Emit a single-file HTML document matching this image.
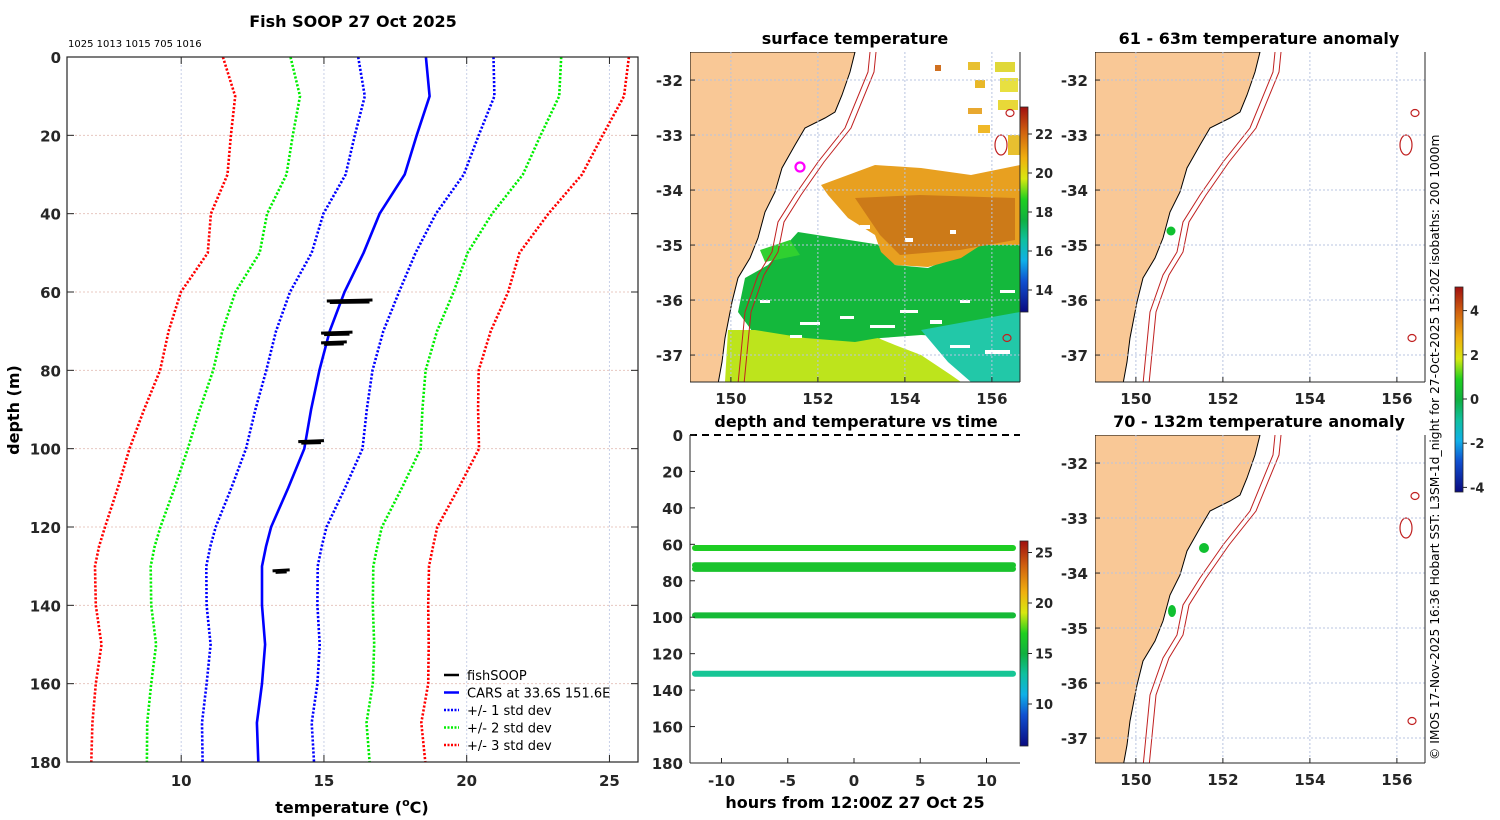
<!DOCTYPE html>
<html><head><meta charset="utf-8"><style>
html,body{margin:0;padding:0;background:#fff}
svg{display:block;font-family:"DejaVu Sans","Liberation Sans",sans-serif}
.tk{font-size:15px;font-weight:bold;fill:#262626}
.ti{font-size:16px;font-weight:bold;fill:#000}
</style></head><body>
<svg id="fig" width="1500" height="820" viewBox="0 0 1500 820" xmlns="http://www.w3.org/2000/svg">
<defs>
<linearGradient id="sstcb" x1="0" y1="1" x2="0" y2="0">
<stop offset="0" stop-color="#0a0a80"/><stop offset="0.15" stop-color="#1050d0"/><stop offset="0.25" stop-color="#10b0e8"/><stop offset="0.35" stop-color="#10c0a0"/><stop offset="0.45" stop-color="#10b040"/><stop offset="0.55" stop-color="#20d020"/><stop offset="0.65" stop-color="#d8e810"/><stop offset="0.75" stop-color="#f0b010"/><stop offset="0.88" stop-color="#d06010"/><stop offset="1" stop-color="#a01010"/>
</linearGradient>
<clipPath id="cm1"><rect x="690" y="52" width="330" height="330"/></clipPath>
<clipPath id="cm2"><rect x="1095" y="52" width="330" height="330"/></clipPath>
<clipPath id="cm3"><rect x="1095" y="435" width="330" height="328"/></clipPath>
</defs>
<g id="g"></g>
</svg>
<script>
// ---- profile data ----
const depths=[0,10,20,30,40,50,60,70,80,90,100,110,120,125,130,140,150,160,170,180];
const carsMean=[18.57,18.7,18.25,17.83,16.95,16.39,15.72,15.2,14.84,14.55,14.31,13.75,13.15,12.97,12.83,12.83,12.94,12.83,12.65,12.7];
const carsStd=[2.37,2.27,2.17,2.07,1.97,1.82,1.91,1.88,1.86,1.95,2.04,1.99,1.94,1.95,1.95,1.94,1.91,1.94,1.92,1.95];
const fishDepth=[62.3,70.5,73,98.2,131.2];
const fishTmin=[15.1,14.9,14.9,14.1,13.2];
const fishTmax=[16.7,16.0,15.8,15.0,13.8];
const xTicks=[10,15,20,25];
const yTicks=[0,20,40,60,80,100,120,140,160,180];
// ---- time series data ----
const tsDepth=[62,71.5,73.5,99,131];
const tsTemp=[16.8,16.2,16.2,15.6,13.2];
const tsStart=-12, tsEnd=12;
const hourTicks=[-10,-5,0,5,10];
// ---- map ticks ----
const lonTicks=[150,152,154,156];
const latTicks=[-32,-33,-34,-35,-36,-37];

const NS="http://www.w3.org/2000/svg";
const G=document.getElementById('g');
function el(tag,attrs,parent,text){const e=document.createElementNS(NS,tag);for(const k in attrs)e.setAttribute(k,attrs[k]);if(text!==undefined)e.textContent=text;(parent||G).appendChild(e);return e;}

const X=t=>67+(t-6)*571/20, Y=d=>57+d*705/180;
const P=el('g',{});

xTicks.forEach(t=>{el('line',{x1:X(t),x2:X(t),y1:57,y2:762,stroke:'#c8d0e8','stroke-dasharray':'2 2','stroke-width':1},P);});
yTicks.forEach(d=>{el('line',{x1:67,x2:638,y1:Y(d),y2:Y(d),stroke:'#e8c8c0','stroke-dasharray':'2 2','stroke-width':1},P);});
const sdCols=['#0000ff','#00ee00','#ff0000'];
[1,2,3].forEach(k=>{
 [-1,1].forEach(s=>{
  const pts=depths.map((d,i)=>X(carsMean[i]+s*k*carsStd[i]).toFixed(1)+','+Y(d).toFixed(1)).join(' ');
  const l=el('polyline',{points:pts,fill:'none',stroke:sdCols[k-1],'stroke-width':2.6,'stroke-dasharray':'2.2 1.8'},P);
  
  
 });
});
const cars=el('polyline',{points:depths.map((d,i)=>X(carsMean[i]).toFixed(1)+','+Y(d).toFixed(1)).join(' '),fill:'none',stroke:'#0000ff','stroke-width':2.6},P);


fishDepth.forEach((d,i)=>{
 const f=el('path',{d:`M${X(fishTmin[i])},${Y(d)} L${X(fishTmax[i])},${Y(d)-1} M${X(fishTmin[i])+3},${Y(d)+1.5} L${X(fishTmax[i])-3},${Y(d)+1}`,stroke:'#000','stroke-width':3,fill:'none'},P);
 
 
});
el('rect',{x:67,y:57,width:571,height:705,fill:'none',stroke:'#262626','stroke-width':1.2},P);
xTicks.forEach(t=>{el('line',{x1:X(t),x2:X(t),y1:762,y2:755,stroke:'#262626'},P);el('line',{x1:X(t),x2:X(t),y1:57,y2:64,stroke:'#262626'},P);const tx=el('text',{x:X(t),y:786,'text-anchor':'middle',class:'tk'},P,String(t));});
yTicks.forEach(d=>{el('line',{x1:67,x2:74,y1:Y(d),y2:Y(d),stroke:'#262626'},P);el('line',{x1:638,x2:631,y1:Y(d),y2:Y(d),stroke:'#262626'},P);const tx=el('text',{x:61,y:Y(d)+6,'text-anchor':'end',class:'tk'},P,String(d));});
</script>
<script>
(function(){
const S=document.getElementById('fig');
function t(x,y,txt,cls,name,extra){const e=document.createElementNS("http://www.w3.org/2000/svg",'text');e.setAttribute('x',x);e.setAttribute('y',y);if(cls)e.setAttribute('class',cls);for(const k in (extra||{}))e.setAttribute(k,extra[k]);e.textContent=txt;


S.appendChild(e);return e;}
t(353,27,'Fish SOOP 27 Oct 2025','ti','profile-title',{'text-anchor':'middle'});
t(68,47,'1025 1013 1015 705 1016','', 'instrument-ids',{'font-size':'10px'});
const xl=t(352,813,'temperature (','ti','x-axis-title',{'text-anchor':'middle'});
xl.innerHTML='temperature (<tspan font-size="11" dy="-7">o</tspan><tspan dy="7">C)</tspan>';
t(19,410,'depth (m)','ti','y-axis-title',{'text-anchor':'middle',transform:'rotate(-90 19 410)'});
t(855,44,'surface temperature','ti','sst-map-title',{'text-anchor':'middle'});
t(1259,44,'61 - 63m temperature anomaly','ti','anomaly-map-top-title',{'text-anchor':'middle'});
t(1259,427,'70 - 132m temperature anomaly','ti','anomaly-map-bottom-title',{'text-anchor':'middle'});
t(856,427,'depth and temperature vs time','ti','timeseries-title',{'text-anchor':'middle'});
t(855,808,'hours from 12:00Z 27 Oct 25','ti','timeseries-x-title',{'text-anchor':'middle'});
t(1439,760,'© IMOS 17-Nov-2025 16:36 Hobart SST: L3SM-1d_night for 27-Oct-2025 15:20Z isobaths: 200  1000m','', 'credit-text',{'font-size':'12.3px',transform:'rotate(-90 1439 760)'});
const leg=[['#000','','fishSOOP'],['#0000ff','','CARS at 33.6S 151.6E'],['#0000ff','2 1.5','+/- 1 std dev'],['#00ee00','2 1.5','+/- 2 std dev'],['#ff0000','2 1.5','+/- 3 std dev']];
leg.forEach((L,i)=>{const y=675+i*17.5;
 const ln=document.createElementNS("http://www.w3.org/2000/svg",'line');
 ln.setAttribute('x1',444);ln.setAttribute('x2',459);ln.setAttribute('y1',y);ln.setAttribute('y2',y);ln.setAttribute('stroke',L[0]);ln.setAttribute('stroke-width',2.5);if(L[1])ln.setAttribute('stroke-dasharray',L[1]);
 
 
 S.appendChild(ln);
 t(467,y+5,L[2],'','legend-entry',{'font-size':'13px'});
});
})();
</script>
<script>
(function(){
const NS="http://www.w3.org/2000/svg";const S=document.getElementById('fig');
function el(tag,attrs,parent,text){const e=document.createElementNS(NS,tag);for(const k in attrs)e.setAttribute(k,attrs[k]);if(text!==undefined)e.textContent=text;(parent||S).appendChild(e);return e;}
const coast=[[165,0],[160,20],[152,43],[145,60],[135,66],[115,76],[105,93],[92,116],[85,140],[75,160],[68,186],[60,206],[48,226],[42,250],[35,286],[32,310],[28,332]];
const iso=[[180,0],[178,20],[155,76],[128,110],[105,143],[88,170],[82,200],[68,223],[55,260],[48,332]];
function pts(a,ox,oy,dx){return a.map(p=>(p[0]+ox+(dx||0))+','+(p[1]+oy)).join(' ');}
function drawMap(ox,oy,h,clip,name,sst){
 const g=el('g',{'clip-path':'url(#'+clip+')'});
 
 
 const mx=lon=>ox+(lon-149.06)*43.5, my=lat=>oy+(-31.49-lat)*55;
 if(sst){
  const P=(a,c)=>el('polygon',{points:a.map(p=>p.join(',')).join(' '),fill:c},g);
  P([[798,232],[881,245],[895,265],[928,268],[981,245],[1020,242],[1020,332],[978,338],[921,335],[881,338],[848,345],[788,345],[755,335],[738,312],[745,278],[768,265]],'#14b83c');
  P([[725,382],[728,330],[755,330],[805,338],[855,342],[878,338],[895,345],[921,355],[951,375],[961,382]],'#bde41c');
  P([[921,330],[1020,312],[1020,382],[971,382],[948,362]],'#22c8a8');
  P([[821,185],[875,165],[921,168],[971,175],[1020,165],[1020,245],[981,245],[961,258],[928,267],[895,265],[881,252],[875,235],[848,218],[828,195]],'#e8a020');
  P([[855,198],[920,195],[1015,198],[1015,240],[960,250],[900,255],[880,235]],'#cc7a18');
  [[968,62,12,8,'#e8c030'],[995,62,20,10,'#e0d838'],[1000,78,18,14,'#e8e040'],[975,80,10,8,'#e8b828'],[968,108,14,6,'#e8a830'],[978,125,12,8,'#f0b828'],[998,100,20,10,'#e8d838'],[1008,135,12,20,'#e8c030'],[935,65,6,6,'#d07020']].forEach(r=>el('rect',{x:r[0],y:r[1],width:r[2],height:r[3],fill:r[4]},g));
  P([[760,250],[790,240],[800,255],[765,262]],'#30d030');
  [[760,300,10,3],[800,322,20,3],[840,316,14,3],[870,325,25,3],[900,310,18,3],[930,320,12,4],[960,300,10,3],[790,335,12,3],[1000,290,15,3],[950,345,20,3],[985,350,25,4],[860,225,10,4],[905,238,8,4],[950,230,6,4]].forEach(r=>el('rect',{x:r[0],y:r[1],width:r[2],height:r[3],fill:'#fff'},g));
 }
 el('polygon',{points:pts(coast,ox,oy)+' '+(ox)+','+(oy+332)+' '+ox+','+oy,fill:'#f9c896',stroke:'#000','stroke-width':1},g);
 el('polyline',{points:pts(iso,ox,oy),fill:'none',stroke:'#c02020','stroke-width':1},g);
 el('polyline',{points:pts(iso,ox,oy,6),fill:'none',stroke:'#c02020','stroke-width':1},g);
 [[320,61],[311,93],[317,286]].forEach(c=>el('ellipse',{cx:ox+c[0],cy:oy+c[1],rx:c[0]==311?6:4,ry:c[0]==311?10:3.5,fill:'none',stroke:'#c02020','stroke-width':1.2},g));
 lonTicks.forEach(l=>el('line',{x1:mx(l),x2:mx(l),y1:oy,y2:oy+h,stroke:'#b8c4e0','stroke-dasharray':'2 2'},g));
 latTicks.forEach(l=>el('line',{x1:ox,x2:ox+330,y1:my(l),y2:my(l),stroke:'#b8c4e0','stroke-dasharray':'2 2'},g));
 el('line',{x1:ox,x2:ox+330,y1:oy+h,y2:oy+h,stroke:'#262626'});
 el('line',{x1:ox+330,x2:ox+330,y1:oy,y2:oy+h,stroke:'#262626'});
 lonTicks.forEach(l=>{el('line',{x1:mx(l),x2:mx(l),y1:oy+h,y2:oy+h-5,stroke:'#262626'});const tx=el('text',{x:mx(l),y:oy+h+22,'text-anchor':'middle',class:'tk'},S,String(l));});
 latTicks.forEach(l=>{el('line',{x1:ox,x2:ox+5,y1:my(l),y2:my(l),stroke:'#262626'});const tx=el('text',{x:ox-7,y:my(l)+6,'text-anchor':'end',class:'tk'},S,String(l));});
 return g;
}
const m1=drawMap(690,52,330,'cm1','sst-map',true);
el('circle',{cx:800,cy:167,r:4.5,fill:'none',stroke:'#ff00ff','stroke-width':2.2},m1);
const m2=drawMap(1095,52,330,'cm2','anomaly-map-top',false);
el('circle',{cx:1171,cy:231,r:4.5,fill:'#10c030'},m2);
const m3=drawMap(1095,435,328,'cm3','anomaly-map-bottom',false);
el('circle',{cx:1204,cy:548,r:5,fill:'#10c030'},m3);
el('ellipse',{cx:1172,cy:611,rx:4,ry:6,fill:'#10c030'},m3);
function cbar(x,y,h,ticks,y0,scale,grad,name){
 const r=el('rect',{x:x,y:y,width:8,height:h,fill:grad,stroke:'#262626','stroke-width':0.8});
 
 
 ticks.forEach(v=>{const ty=y0-v*scale;el('line',{x1:x+8,x2:x+12,y1:ty,y2:ty,stroke:'#262626'});const tx=el('text',{x:x+15,y:ty+5,class:'tk'},S,String(v));tx.style.fontSize='13px';});
}
cbar(1020,107,205,[14,16,18,20,22],290+14*19.5,19.5,'url(#sstcb)','sst-colorbar');
cbar(1020,541,205,[10,15,20,25],704+10*10.1,10.1,'url(#sstcb)','timeseries-colorbar');
cbar(1455,287,205,[4,2,0,-2,-4],399,22.1,'url(#sstcb)','anomaly-colorbar');
})();
</script>
<script>
(function(){
const NS="http://www.w3.org/2000/svg";const S=document.getElementById('fig');
function el(tag,attrs,parent,text){const e=document.createElementNS(NS,tag);for(const k in attrs)e.setAttribute(k,attrs[k]);if(text!==undefined)e.textContent=text;(parent||S).appendChild(e);return e;}
const TX=h=>854+h*13.25, TY=d=>435+d*328/180;
const stops=[[6,[10,10,128]],[9,[16,80,208]],[11,[16,176,232]],[13,[24,200,160]],[15,[16,176,64]],[17,[32,208,32]],[19,[216,232,16]],[21,[240,176,16]],[23.5,[208,96,16]],[26,[160,16,16]]];
function cmap(v){for(let i=1;i<stops.length;i++){if(v<=stops[i][0]){const a=stops[i-1],b=stops[i],f=(v-a[0])/(b[0]-a[0]);return 'rgb('+a[1].map((c,k)=>Math.round(c+(b[1][k]-c)*f)).join(',')+')';}}return 'rgb(160,16,16)';}
el('line',{x1:690,x2:1020,y1:435,y2:435,stroke:'#000','stroke-width':2,'stroke-dasharray':'7 5'});
tsDepth.forEach((d,i)=>{
 const b=el('line',{x1:TX(tsStart),x2:TX(tsEnd),y1:TY(d),y2:TY(d),stroke:cmap(tsTemp[i]),'stroke-width':6,'stroke-linecap':'round'});
 
 
});
el('line',{x1:690,x2:690,y1:435,y2:763,stroke:'#262626'});
el('line',{x1:690,x2:1020,y1:763,y2:763,stroke:'#262626'});
hourTicks.forEach(h=>{el('line',{x1:TX(h),x2:TX(h),y1:763,y2:758,stroke:'#262626'});const tx=el('text',{x:TX(h),y:786,'text-anchor':'middle',class:'tk'},S,String(h));});
[0,20,40,60,80,100,120,140,160,180].forEach(d=>{el('line',{x1:690,x2:695,y1:TY(d),y2:TY(d),stroke:'#262626'});const tx=el('text',{x:683,y:TY(d)+6,'text-anchor':'end',class:'tk'},S,String(d));});
})();
</script>
</body></html>
